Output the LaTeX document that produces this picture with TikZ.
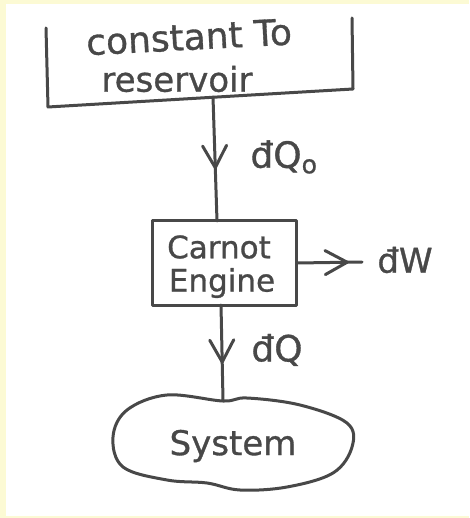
\documentclass[tikz,border=0pt]{standalone}
\usepackage{fontspec}
\setmainfont{DejaVu Sans}[FakeBold=0.9]
\usetikzlibrary{decorations.markings,calc}
\definecolor{ink}{RGB}{72,72,72}
\definecolor{paper}{RGB}{252,250,212}
\begin{document}
\begin{tikzpicture}[x=1pt,y=-1pt,line cap=round,line join=round,
  pen/.style={draw=ink,line width=3pt},
  hand/.style={text=ink,inner sep=0pt,font=\fontsize{#1}{#1}\selectfont},
  flow/.style={pen,postaction={decorate},
    decoration={markings,mark=at position #1 with
      {\draw[pen] (-22pt,-12pt) -- (0pt,0pt) -- (-22pt,12pt);}}}]
  % page
  \useasboundingbox (0,0) rectangle (469,518);
  \fill[paper] (0,0) rectangle (469,518);
  \fill[white] (6,4) rectangle (469,516);

  % reservoir: open-topped box
  \draw[pen] (46,28) -- (48,107) -- (353,89) -- (352,18);
  \node[hand=36,rotate=3] (res1) at (189,37) {constant To};
  \node[hand=34] (res2) at (177,79) {reservoir};
  \coordinate (resbot) at (213,97);

  % engine
  \node[pen,minimum width=144pt,minimum height=84pt] (eng) at (224,263) {};
  \node[hand=31] (eng1) at (219,247) {Carnot};
  \node[hand=31] (eng2) at (222,283) {Engine};
  \coordinate (engtop) at (217,221);
  \coordinate (engbot) at (221,305);
  \coordinate (wout) at (362,262);

  % system cloud
  \draw[pen] plot[smooth cycle,tension=0.6] coordinates {
    (223,401) (247,398) (300,405) (347,423) (352,447) (333,473)
    (287,487) (240,490) (207,483) (167,480) (123,467) (113,437)
    (127,410) (167,395)};
  \node[hand=34] (sys) at (233,446) {System};
  \coordinate (systop) at (223,400);

  % heat and work flows
  \draw[flow=0.57] (resbot) -- (engtop);
  \draw[flow=0.6] (engbot) -- (systop);
  \draw[flow=0.77] (eng.east) -- (wout);

  % labels
  \node[hand=36] (q0) at (284,157) {đQ\textsubscript{o}};
  \node[hand=36] (q) at (277,350) {đQ};
  \node[hand=34] (w) at (405,260) {đW};
\end{tikzpicture}
\end{document}
